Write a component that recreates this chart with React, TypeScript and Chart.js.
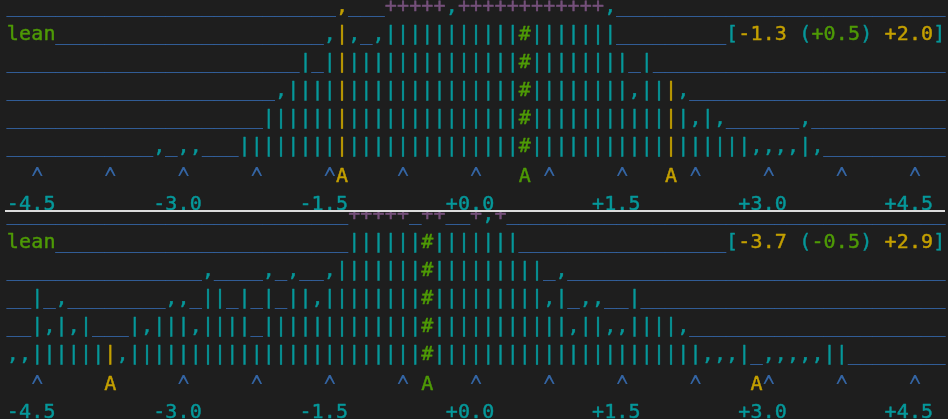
import React, { useEffect, useRef } from "react";
import { Chart, registerables } from "chart.js";

Chart.register(...registerables);

// ---------------- data ----------------
// histogram columns: column c sits at value binStart + c * binWidth
const binStart = -4.75;
const binWidth = 0.125;
const tickValues = [-4.5, -3.0, -1.5, 0.0, 1.5, 3.0, 4.5];
const caretValues = [-4.5, -3.75, -3.0, -2.25, -1.5, -0.75, 0.0, 0.75, 1.5, 2.25, 3.0, 3.75, 4.5];
const rowLabel = "lean";

// rows of the text histogram (run-length: a character followed by its repeat count)
const topRows = [
  "_27,_3+5,+12,_27",
  " 4_22,|,_,|11#|7_9 18",
  "_24|_|16#|8_|_24",
  "_22,|19#|8,|3,_21",
  "_21|21#|13,|,_6,_11",
  "_12,_,,_3|23#|18,4|,_10",
];
const topStats = [-1.3, 0.5, 2.0]; // low, mean, high

const bottomRows = [
  "_28+5_++__+,+_36",
  " 4_24|6#|7_17 18",
  "_16,_4,_,__,|7#|9_,_31",
  "__|_,_8,,_||_|_|_||,|8#|9,|_,,__|_25",
  "__|,|,|___|,|||,||||_|13#|11,||,,||||,_21",
  ",,|6|,|24#|22,,,|_,5||_8",
];
const bottomStats = [-3.7, -0.5, 2.9];

// ---------------- style ----------------
const BG = "#1e1e1e";
const BLUE = "#3465a4";
const TEAL = "#06989a";
const PURPLE = "#75507b";
const GREEN = "#4e9a06";
const GOLD = "#c4a000";
const FONT = '20px "DejaVu Sans Mono", monospace';
const WIDTH = 948;
const ROW_H = 28;
const X_MIN = -4.882;
const X_MAX = 4.839;
const MARK_ROW = 6.06;
const LABEL_ROW = 7.06;

type Glyph = { x: number; y: number; ch: string; color: string };

const expand = (s: string) =>
  s.replace(/(\D)(\d+)/g, (_m: string, ch: string, n: string) => ch.repeat(Number(n)));
const colOf = (v: number) =>
  Math.floor(v / binWidth + 1e-6) - Math.round(binStart / binWidth);
const xOfCol = (c: number) => binStart + c * binWidth;
const fmt = (v: number) => (v < 0 ? "-" : "+") + Math.abs(v).toFixed(1);

function colorFor(ch: string, gold: boolean) {
  if (ch === "_") return BLUE;
  if (ch === "+") return PURPLE;
  if (ch === "#") return GREEN;
  return gold ? GOLD : TEAL;
}

function buildGlyphs(rows: string[], stats: number[]): Glyph[] {
  const [lo, mean, hi] = stats;
  const goldCols = [colOf(lo), colOf(hi)];
  const meanCol = colOf(mean);
  const out: Glyph[] = [];
  const put = (c: number, r: number, ch: string, color: string) =>
    out.push({ x: xOfCol(c), y: r, ch, color });

  const expanded = rows.map(expand);
  expanded.forEach((s, r) => {
    [...s].forEach((ch, c) => {
      if (ch === " ") return;
      put(c, r, ch, colorFor(ch, goldCols.includes(c)));
    });
  });

  [...rowLabel].forEach((ch, i) => put(i, 1, ch, GREEN));

  const parts: [string, string][] = [
    ["[", TEAL],
    [fmt(lo), GOLD],
    [" (", TEAL],
    [fmt(mean), GREEN],
    [") ", TEAL],
    [fmt(hi), GOLD],
    ["]", TEAL],
  ];
  const total = parts.reduce((n, p) => n + p[0].length, 0);
  let c = expanded[0].length - total;
  parts.forEach(([t, color]) =>
    [...t].forEach((ch) => {
      if (ch !== " ") put(c, 1, ch, color);
      c++;
    })
  );

  const markers = new Map<number, string>([
    [goldCols[0], GOLD],
    [meanCol, GREEN],
    [goldCols[1], GOLD],
  ]);
  caretValues.forEach((v) => {
    const cc = colOf(v);
    if (!markers.has(cc)) put(cc, MARK_ROW, "^", BLUE);
  });
  markers.forEach((color, cc) => put(cc, MARK_ROW, "A", color));

  tickValues.forEach((v) => {
    const t = fmt(v);
    const dot = t.indexOf(".");
    [...t].forEach((ch, i) => put(colOf(v) + i - dot, LABEL_ROW, ch, TEAL));
  });
  return out;
}

const glyphPlugin = {
  id: "glyphs",
  afterDatasetsDraw(chart: any) {
    const ctx = chart.ctx as CanvasRenderingContext2D;
    ctx.save();
    ctx.font = FONT;
    ctx.textAlign = "center";
    ctx.textBaseline = "alphabetic";
    ctx.lineWidth = 0.45;
    ctx.lineJoin = "round";
    const cm = ctx.measureText("^");
    const cAsc = cm.actualBoundingBoxAscent;
    const cDesc = cm.actualBoundingBoxDescent;
    chart.data.datasets.forEach((ds: any, i: number) => {
      const meta = chart.getDatasetMeta(i);
      meta.data.forEach((el: any, j: number) => {
        const g = ds.data[j] as Glyph;
        ctx.fillStyle = g.color;
        ctx.strokeStyle = g.color;
        if (g.ch === "^") {
          // caret drawn taller, spanning 15..5 px above the row baseline
          const top = -15;
          const bottom = -5;
          const h = cAsc + cDesc;
          const s = h > 0 ? (bottom - top) / h : 1;
          ctx.save();
          ctx.translate(el.x, el.y + top + s * cAsc);
          ctx.scale(1, s);
          ctx.lineWidth = 0.45 / s;
          ctx.fillText(g.ch, 0, 0);
          ctx.restore();
        } else {
          ctx.fillText(g.ch, el.x, el.y);
          ctx.strokeText(g.ch, el.x, el.y);
        }
      });
    });
    ctx.restore();
  },
};

function Panel({ rows, stats, height, yMin }: { rows: string[]; stats: number[]; height: number; yMin: number }) {
  const ref = useRef<HTMLCanvasElement>(null);
  useEffect(() => {
    const chart = new Chart(ref.current as HTMLCanvasElement, {
      type: "scatter",
      data: {
        datasets: [
          {
            data: buildGlyphs(rows, stats) as any,
            pointRadius: 0,
            pointHoverRadius: 0,
          },
        ],
      },
      options: {
        responsive: false,
        animation: false,
        devicePixelRatio: 1,
        events: [],
        layout: { padding: 0 },
        plugins: { legend: { display: false }, tooltip: { enabled: false } },
        scales: {
          x: { type: "linear", display: false, min: X_MIN, max: X_MAX },
          y: { type: "linear", display: false, reverse: true, min: yMin, max: yMin + height / ROW_H },
        },
      },
      plugins: [glyphPlugin],
    });
    return () => chart.destroy();
  }, []);
  return <canvas ref={ref} width={WIDTH} height={height} style={{ display: "block" }} />;
}

export default function App() {
  useEffect(() => {
    document.body.style.margin = "0";
    document.body.style.background = BG;
  }, []);
  return (
    <div style={{ position: "relative", width: WIDTH, height: 419, background: BG, overflow: "hidden" }}>
      <div style={{ position: "absolute", left: 0, top: 0 }}>
        <Panel rows={topRows} stats={topStats} height={210} yMin={-12 / ROW_H} />
      </div>
      <div style={{ position: "absolute", left: 5, top: 210, width: 940, height: 2, background: "#dcdcdc" }} />
      <div style={{ position: "absolute", left: 0, top: 212 }}>
        <Panel rows={bottomRows} stats={bottomStats} height={207} yMin={-8 / ROW_H} />
      </div>
    </div>
  );
}
